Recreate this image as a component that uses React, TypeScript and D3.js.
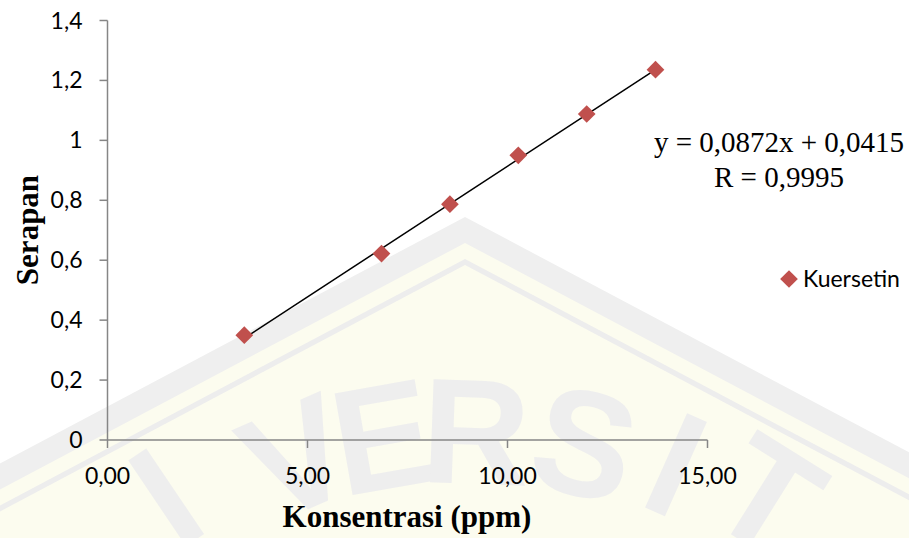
import React from "react";
import * as d3 from "d3";

// data
const konsentrasi = [3.42, 6.85, 8.56, 10.27, 11.98, 13.7];
const serapan = [0.35, 0.622, 0.787, 0.95, 1.088, 1.236];
const xTicks = [0, 5, 10, 15];
const yTicks = [0, 0.2, 0.4, 0.6, 0.8, 1, 1.2, 1.4];
const slope = 0.0872;
const intercept = 0.0415;
const seriesName = "Kuersetin";

// faint watermark letters (background decoration)
const wmLetters = [
  { ch: "I", x: 195, y: 540, r: -34 },
  { ch: "V", x: 318, y: 505, r: -24 },
  { ch: "E", x: 392, y: 488, r: -10 },
  { ch: "R", x: 474, y: 484, r: 2 },
  { ch: "S", x: 572, y: 494, r: 14 },
  { ch: "I", x: 655, y: 512, r: 24 },
  { ch: "T", x: 740, y: 540, r: 32 },
];

const W = 909;
const H = 538;
const margin = { left: 107.5, right: 201.5, top: 20.5, bottom: 98 };

const fmtX = (v: number) => v.toFixed(2).replace(".", ",");
const fmtY = (v: number) => String(+v.toFixed(1)).replace(".", ",");

export default function App() {
  const x = d3.scaleLinear().domain([0, 15]).range([margin.left, W - margin.right]);
  const y = d3.scaleLinear().domain([0, 1.4]).range([H - margin.bottom, margin.top]);
  const axisColor = "#868686";
  const red = "#C0504D";

  const xMin = d3.min(konsentrasi) as number;
  const xMax = d3.max(konsentrasi) as number;
  const trend = d3.line<number>()
    .x((d) => x(d))
    .y((d) => y(slope * d + intercept));

  const diamond = d3.symbol(d3.symbolDiamond2, 200)();

  // watermark band
  const peak = [465, 217];
  const k = 0.53;
  const band = (dy: number) => {
    const py = peak[1] + dy;
    return `M ${-20} ${py + k * (peak[0] + 20)} L ${peak[0]} ${py} L ${W + 20} ${py + k * (W + 20 - peak[0])} L ${W + 20} ${H + 50} L -20 ${H + 50} Z`;
  };

  return (
    <svg
      width={W}
      height={H}
      style={{ position: "absolute", left: 0, top: 0, background: "#fff" }}
    >
      {/* watermark */}
      <g>
        <path d={band(0)} fill="#efefef" />
        <path d={band(26)} fill="#fcfcef" />
        <path d={band(42)} fill="#ededed" />
        <path d={band(48)} fill="#fcfcef" />
        {wmLetters.map((l, i) => (
          <text
            key={i}
            transform={`translate(${l.x},${l.y}) rotate(${l.r})`}
            textAnchor="middle"
            fontFamily="Liberation Sans, Arial, sans-serif"
            fontWeight="bold"
            fontSize={150}
            fill="#eeeeee"
          >
            {l.ch}
          </text>
        ))}
      </g>

      {/* y axis */}
      <line x1={x(0)} x2={x(0)} y1={y(0)} y2={y(1.4)} stroke={axisColor} strokeWidth={1.5} />
      {yTicks.map((t) => (
        <g key={t}>
          <line x1={x(0) - 8} x2={x(0)} y1={y(t)} y2={y(t)} stroke={axisColor} strokeWidth={1.5} />
          <text
            x={x(0) - 25}
            y={y(t)}
            dy="0.35em"
            textAnchor="end"
            fontFamily="Lato, sans-serif"
            fontSize={23}
            fill="#000"
          >
            {fmtY(t)}
          </text>
        </g>
      ))}

      {/* x axis */}
      <line x1={x(0)} x2={x(15)} y1={y(0)} y2={y(0)} stroke={axisColor} strokeWidth={1.5} />
      {xTicks.map((t) => (
        <g key={t}>
          <line x1={x(t)} x2={x(t)} y1={y(0)} y2={y(0) + 8} stroke={axisColor} strokeWidth={1.5} />
          <text
            x={x(t)}
            y={y(0) + 44}
            textAnchor="middle"
            fontFamily="Lato, sans-serif"
            fontSize={23}
            fill="#000"
          >
            {fmtX(t)}
          </text>
        </g>
      ))}

      {/* trend line */}
      <path d={trend([xMin, xMax]) || ""} fill="none" stroke="#000" strokeWidth={1.5} />

      {/* points */}
      {konsentrasi.map((c, i) => (
        <path
          key={i}
          d={diamond || ""}
          transform={`translate(${x(c)},${y(serapan[i])})`}
          fill={red}
        />
      ))}

      {/* equation */}
      <text
        x={779}
        y={152}
        textAnchor="middle"
        fontFamily="Liberation Serif, Times New Roman, serif"
        fontSize={29}
        fill="#000"
      >
        {`y = ${String(slope).replace(".", ",")}x + ${String(intercept).replace(".", ",")}`}
      </text>
      <text
        x={779}
        y={187}
        textAnchor="middle"
        fontFamily="Liberation Serif, Times New Roman, serif"
        fontSize={29}
        fill="#000"
      >
        R = 0,9995
      </text>

      {/* legend */}
      <path d={diamond || ""} transform="translate(789,279)" fill={red} />
      <text x={803} y={279} dy="0.35em" fontFamily="Lato, sans-serif" fontSize={23} fill="#000">
        {seriesName}
      </text>

      {/* axis titles */}
      <text
        x={407}
        y={527}
        textAnchor="middle"
        fontFamily="Liberation Serif, Times New Roman, serif"
        fontWeight="bold"
        fontSize={31}
        fill="#000"
      >
        Konsentrasi (ppm)
      </text>
      <text
        transform="translate(38,230) rotate(-90)"
        textAnchor="middle"
        fontFamily="Liberation Serif, Times New Roman, serif"
        fontWeight="bold"
        fontSize={31}
        fill="#000"
      >
        Serapan
      </text>
    </svg>
  );
}
